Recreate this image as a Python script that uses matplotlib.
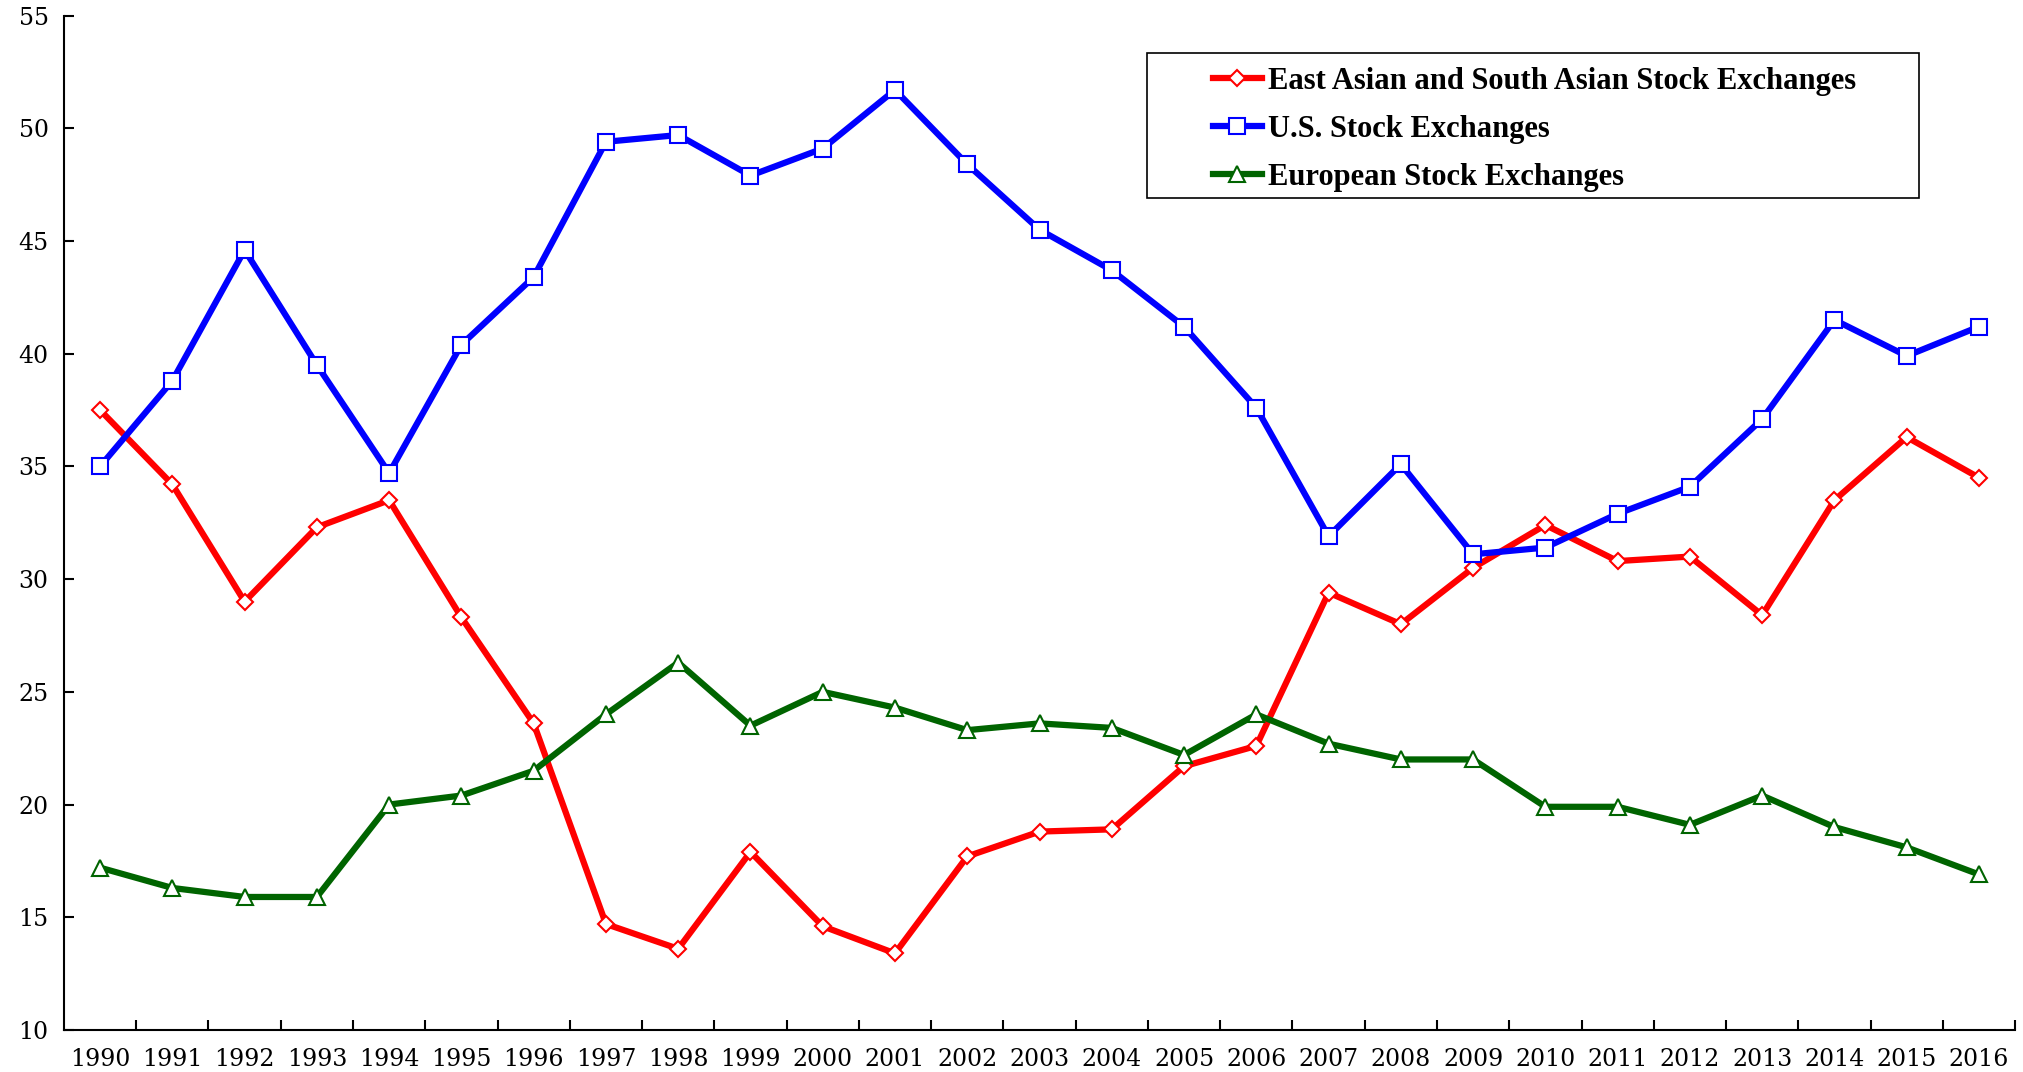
import matplotlib
matplotlib.use("Agg")
import matplotlib.pyplot as plt
from matplotlib.patches import Rectangle
import numpy as np

years = list(range(1990, 2017))

east_south_asia = [37.5, 34.2, 29.0, 32.3, 33.5, 28.3, 23.6, 14.7, 13.6, 17.9,
                   14.6, 13.4, 17.7, 18.8, 18.9, 21.7, 22.6, 29.4, 28.0, 30.5,
                   32.4, 30.8, 31.0, 28.4, 33.5, 36.3, 34.5]
us = [35.0, 38.8, 44.6, 39.5, 34.7, 40.4, 43.4, 49.4, 49.7, 47.9,
      49.1, 51.7, 48.4, 45.5, 43.7, 41.2, 37.6, 31.9, 35.1, 31.1,
      31.4, 32.9, 34.1, 37.1, 41.5, 39.9, 41.2]
europe = [17.2, 16.3, 15.9, 15.9, 20.0, 20.4, 21.5, 24.0, 26.3, 23.5,
          25.0, 24.3, 23.3, 23.6, 23.4, 22.2, 24.0, 22.7, 22.0, 22.0,
          19.9, 19.9, 19.1, 20.4, 19.0, 18.1, 16.9]

labels = ['East Asian and South Asian Stock Exchanges',
          'U.S. Stock Exchanges',
          'European Stock Exchanges']

fig = plt.figure(figsize=(20.24, 10.72), dpi=100)
ax = fig.add_axes([0.0316, 0.0392, 0.9640, 0.9463])

x = np.arange(len(years))
ax.plot(x, east_south_asia, color='#ff0000', lw=4.5, marker='D', ms=8,
        mfc='white', mec='#ff0000', mew=1.5, label=labels[0])
ax.plot(x, us, color='#0000ff', lw=4.5, marker='s', ms=12,
        mfc='white', mec='#0000ff', mew=1.5, label=labels[1])
ax.plot(x, europe, color='#006400', lw=4.5, marker='^', ms=12,
        mfc='white', mec='#006400', mew=1.5, label=labels[2])

ax.set_xlim(-0.5, len(years) - 0.5)
ax.set_ylim(10, 55)
ax.set_yticks(range(10, 56, 5))
ax.set_xticks(x)
ax.set_xticklabels([str(y) for y in years])
ax.set_xticks(np.arange(0.5, len(years), 1), minor=True)

ax.tick_params(axis='x', which='major', length=0, pad=13)
ax.tick_params(axis='x', which='minor', direction='in', length=7, width=1.5)
ax.tick_params(axis='y', direction='in', length=7, width=1.5, pad=11)
for lab in ax.get_xticklabels() + ax.get_yticklabels():
    lab.set_fontfamily('DejaVu Serif')
    lab.set_fontsize(17)

ax.spines['top'].set_visible(False)
ax.spines['right'].set_visible(False)
ax.spines['left'].set_linewidth(1.5)
ax.spines['bottom'].set_linewidth(1.5)

# legend without its own frame; box drawn by hand with wider side padding
leg = fig.legend(loc='upper left', bbox_to_anchor=(1213 / 2024, 1 - 67 / 1072),
                 frameon=False, borderpad=0, borderaxespad=0,
                 labelspacing=0.62, handlelength=1.6, handletextpad=0.2,
                 prop={'family': 'Liberation Serif', 'weight': 'bold', 'size': 22})

fig.canvas.draw()
bb = leg.get_window_extent()
x0, y0 = bb.x0 - 66, bb.y0 - 6
w, h = bb.width + 66 + 63, bb.height + 20
fig.patches.append(Rectangle((x0, y0), w, h, transform=None, fill=False,
                             edgecolor='black', lw=1.2, figure=fig))

plt.savefig('out.png', dpi=100)
